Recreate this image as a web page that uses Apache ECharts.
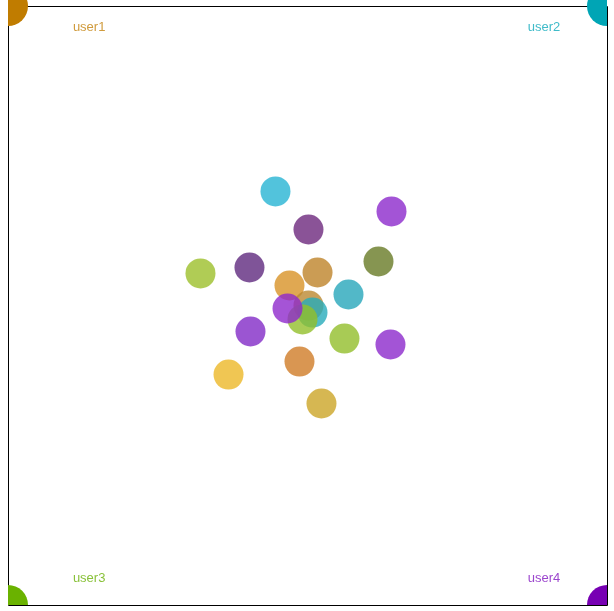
<!DOCTYPE html>
<html><head><meta charset="utf-8">
<script src="https://cdn.jsdelivr.net/npm/echarts@6/dist/echarts.min.js"></script>
<style>html,body{margin:0;padding:0;background:#fff}#c{width:614px;height:611px}</style>
</head><body><div id="c"></div>
<script>
// Users (corner anchors)
var users = ['user1', 'user2', 'user3', 'user4'];
var userX = [0, 100, 0, 100];
var userY = [100, 100, 0, 0];
var labelX = [10.75, 86.7, 10.75, 86.7];
var labelY = [96.5, 96.5, 4.6, 4.6];
// Blended points
var pointX = [44.57, 50.08, 63.94, 61.77, 32.05, 40.23, 46.91, 51.59, 56.76, 50.08, 50.75, 49.08, 46.58, 40.40, 56.09, 63.77, 48.58, 36.73, 52.25];
var pointY = [69.12, 62.77, 65.78, 57.43, 55.43, 56.43, 53.42, 55.59, 51.92, 50.08, 48.91, 47.75, 49.58, 45.74, 44.57, 43.57, 40.73, 38.56, 33.72];

// styles
var userColors = ['#c07c00', '#00a5b5', '#6ab200', '#7700b3'];
var labelColors = ['#c4820c', '#10aabb', '#6cb208', '#8216c0'];
var seen = ['#52c3dc', '#8a5397', '#a354d6', '#869551', '#b0cc55', '#7f5498', '#e0a852', '#cb9c54', '#52b8c8', '#c9a05a', '#52bcc8', '#a8cc55', '#a554d6', '#9b55d2', '#a8cb55', '#a354d6', '#d99652', '#f0c653', '#d6b752'];
var A = 0.8;
function base(hex) {
  var r = [1, 3, 5].map(function (i) { return parseInt(hex.substr(i, 2), 16); });
  return 'rgb(' + r.map(function (v) { return Math.max(0, Math.min(255, Math.round((v - 255 * (1 - A)) / A))); }).join(',') + ')';
}

var chart = echarts.init(document.getElementById('c'));
chart.setOption({
  animation: false,
  grid: { left: 8.5, top: 6.5, width: 599, height: 599, show: true, borderColor: '#000', borderWidth: 1, backgroundColor: 'transparent' },
  xAxis: { type: 'value', min: 0, max: 100, show: false },
  yAxis: { type: 'value', min: 0, max: 100, show: false },
  series: [
    {
      type: 'scatter', symbolSize: 30,
      data: pointX.map(function (x, i) { return { value: [x, pointY[i]], itemStyle: { color: base(seen[i]), opacity: A } }; })
    },
    {
      type: 'custom', clip: false, z: 3,
      data: users.map(function (u, i) { return [userX[i], userY[i], i]; }),
      renderItem: function (params, api) {
        var p = api.coord([api.value(0), api.value(1)]);
        var cs = params.coordSys;
        return {
          type: 'circle',
          shape: { cx: p[0] - 0.5, cy: p[1] - 0.5, r: 20 },
          style: { fill: userColors[api.value(2)] },
          clipPath: { type: 'rect', shape: { x: cs.x - 0.5, y: -50, width: cs.width, height: cs.y + cs.height + 50 - 0.5 } }
        };
      }
    },
    {
      type: 'scatter', symbolSize: 0, silent: true,
      data: users.map(function (u, i) {
        return { value: [labelX[i], labelY[i]], name: u,
          label: { show: true, position: 'inside', align: 'left', verticalAlign: 'middle', formatter: '{b}', color: labelColors[i], fontSize: 13, fontFamily: 'sans-serif' } };
      })
    }
  ]
});
</script></body></html>
